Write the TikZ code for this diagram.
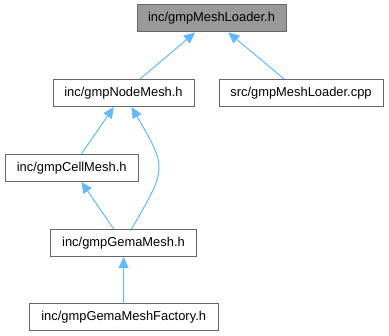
\documentclass[tikz,border=0pt]{standalone}
\usepackage{fontspec}
\setmainfont{Liberation Sans}
\usetikzlibrary{arrows.meta}
\definecolor{edgeblue}{HTML}{63B8FF}
\definecolor{boxgrey}{HTML}{666666}
\definecolor{topfill}{HTML}{999999}
\tikzset{
  file/.style={draw=boxgrey, fill=white, line width=1pt, minimum height=27pt, inner sep=0pt, font=\fontsize{12.9}{15}\selectfont},
  dep/.style={->, draw=edgeblue, line width=1pt},
}
\begin{document}
\begin{tikzpicture}[x=1pt, y=-1pt, >={Triangle[length=11pt, width=10pt, fill=edgeblue]}]
      \useasboundingbox (0,0) rectangle (389,336);
      \node[file, fill=topfill, minimum width=149pt] (loader) at (211.5,18.5) {inc/gmpMeshLoader.h};
      \node[file, minimum width=141pt] (nodemesh) at (123.5,93) {inc/gmpNodeMesh.h};
      \node[file, minimum width=164pt] (loadercpp) at (301,93) {src/gmpMeshLoader.cpp};
      \node[file, minimum width=133pt] (cellmesh) at (71.7,168) {inc/gmpCellMesh.h};
      \node[file, minimum width=146pt] (gemamesh) at (123.5,243) {inc/gmpGemaMesh.h};
      \node[file, minimum width=189pt] (factory) at (123.7,317.5) {inc/gmpGemaMeshFactory.h};
      \draw[dep] (nodemesh) -- (loader);
      \draw[dep] (loadercpp) -- (loader);
      \draw[dep] (cellmesh) -- (nodemesh);
      \draw[dep] (gemamesh) -- (cellmesh);
      \draw[dep] (gemamesh) to[out=60, in=-60, looseness=1.5] (nodemesh);
      \draw[dep] (factory) -- (gemamesh);
    \end{tikzpicture}
\end{document}
